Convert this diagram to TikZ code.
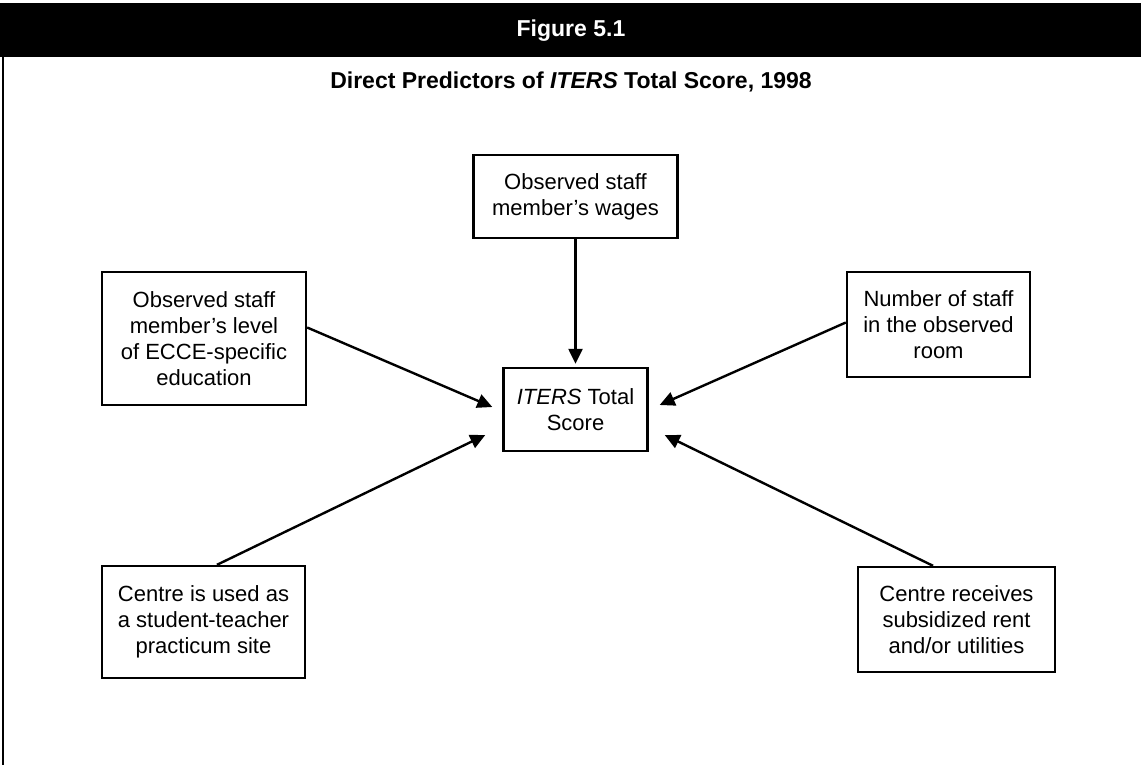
\documentclass[tikz,border=0pt]{standalone}
\usepackage{fontspec}
\setmainfont{Liberation Sans}
\usetikzlibrary{arrows.meta,calc}

\tikzset{
  box/.style={draw=black, line width=2.4pt, fill=white, align=center,
    inner sep=0pt, font=\fontsize{22}{26}\selectfont},
  link/.style={line width=2.4pt, -{Triangle[length=15pt,width=14pt]}},
  headtext/.style={font=\bfseries\fontsize{23}{27}\selectfont}
}

\begin{document}
\begin{tikzpicture}[x=1pt,y=-1pt]
  \useasboundingbox[fill=white] (0,0) rectangle (1141,765);

  % header bar and left rule
  \fill[black] (0,3) rectangle (1141,57);
  \draw[line width=2.2pt] (3,57) -- (3,765);
  \node[headtext, text=white] (fig) at (571,31) {Figure 5.1};
  \node[headtext] (caption) at (571,82) {Direct Predictors of \textit{ITERS} Total Score, 1998};

  % boxes
  \node[box, minimum width=204, minimum height=83] (wages) at (575.5,196.5)
    {Observed staff\\member’s wages};
  \node[box, minimum width=144, minimum height=83] (score) at (575.5,409.5)
    {\textit{ITERS} Total\\Score};
  \node[box, minimum width=204, minimum height=133] (edu) at (204,338.5)
    {Observed staff\\member’s level\\of ECCE-specific\\education};
  \node[box, minimum width=183, minimum height=105] (staff) at (938.5,324.5)
    {Number of staff\\in the observed\\room};
  \node[box, minimum width=203, minimum height=112] (site) at (203.5,622)
    {Centre is used as\\a student-teacher\\practicum site};
  \node[box, minimum width=197, minimum height=105] (rent) at (956.5,619.5)
    {Centre receives\\subsidized rent\\and/or utilities};

  % arrows into the score box
  \draw[link] (wages.south) -- ([yshift=3pt]score.north);
  \draw[link] ([yshift=11pt]edu.east) -- ([xshift=-10pt,yshift=2.5pt]score.west);
  \draw[link] ([xshift=13.5pt]site.north) -- ([xshift=-17pt,yshift=-25.5pt]score.west);
  \draw[link] ([yshift=2pt]staff.west) -- ([xshift=11pt,yshift=4.5pt]score.east);
  \draw[link] ([xshift=-23.5pt]rent.north) -- ([xshift=16pt,yshift=-25.5pt]score.east);
\end{tikzpicture}
\end{document}
